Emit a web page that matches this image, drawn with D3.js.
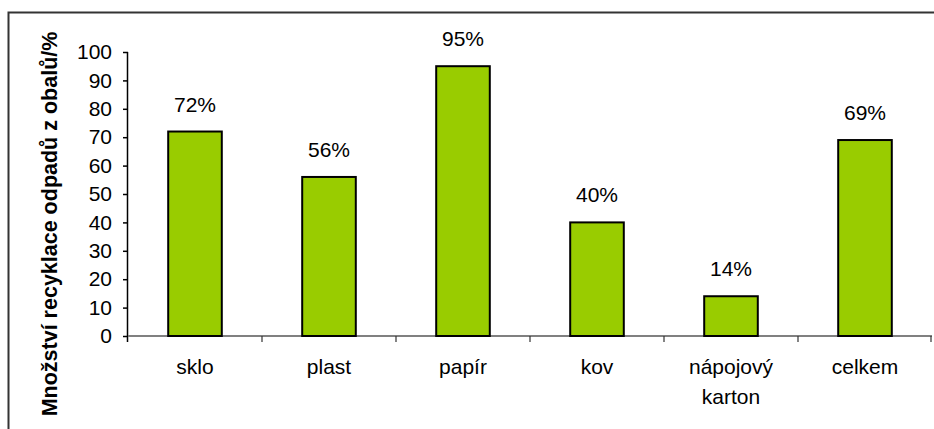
<!DOCTYPE html>
<html><head><meta charset="utf-8">
<script src="https://cdn.jsdelivr.net/npm/d3@7"></script>
<style>body{margin:0;background:#fff}svg{display:block}</style>
</head><body>
<script>
const categories = [["sklo"],["plast"],["papír"],["kov"],["nápojový","karton"],["celkem"]];
const values = [72, 56, 95, 40, 14, 69];
const yTicks = [0,10,20,30,40,50,60,70,80,90,100];
const yTitle = "Množství recyklace odpadů z obalů/%";

const W = 934, H = 429;
const FONT = "Arial, 'Liberation Sans', sans-serif";
const svg = d3.select("body").append("svg").attr("width", W).attr("height", H);
svg.append("rect").attr("x", 8.5).attr("y", 12.5).attr("width", 960).attr("height", 460)
  .attr("fill", "none").attr("stroke", "#333").attr("stroke-width", 2);

const x0 = 128, x1 = 932, yTop = 52, yBot = 336;
const x = d3.scaleBand().domain(d3.range(values.length)).range([x0, x1]).paddingInner(0.6).paddingOuter(0.3);
const xb = d3.scaleBand().domain(d3.range(values.length)).range([x0, x1]);
const y = d3.scaleLinear().domain([0,100]).range([yBot, yTop]);

// y axis
const ya = svg.append("g").attr("transform", `translate(${x0},0)`)
  .call(d3.axisLeft(y).tickValues(yTicks).tickSize(5).tickPadding(11));
ya.select(".domain").attr("stroke", "#000").attr("d", `M-0.5,${yTop}V${yBot+6}`).attr("stroke-width",1.5);
ya.selectAll(".tick line").attr("stroke", "#000").attr("stroke-width",1.5);
ya.selectAll(".tick text").attr("font-family", FONT).attr("font-size", 21).attr("fill", "#000");

// x axis line
svg.append("line").attr("x1", x0).attr("x2", x1).attr("y1", yBot).attr("y2", yBot)
  .attr("stroke", "#808080").attr("stroke-width", 2);
svg.selectAll(".xt").data(d3.range(1, values.length + 1)).enter().append("line")
  .attr("x1", i => i < values.length ? xb(i) : x1 - 1).attr("x2", i => i < values.length ? xb(i) : x1 - 1)
  .attr("y1", yBot).attr("y2", yBot + 6).attr("stroke", "#333").attr("stroke-width", 1.2);

// bars
svg.selectAll(".bar").data(values).enter().append("rect")
  .attr("x", (d,i) => x(i)).attr("width", x.bandwidth())
  .attr("y", d => y(d)).attr("height", d => yBot - y(d))
  .attr("fill", "#99cc00").attr("stroke", "#000").attr("stroke-width", 2);

// value labels
svg.selectAll(".vl").data(values).enter().append("text")
  .attr("x", (d,i) => x(i) + x.bandwidth()/2).attr("y", d => y(d) - 20)
  .attr("text-anchor", "middle").attr("font-family", FONT)
  .attr("font-size", 21).attr("fill", "#000").text(d => d + "%");

// category labels
const cl = svg.selectAll(".cl").data(categories).enter().append("text")
  .attr("text-anchor", "middle").attr("font-family", FONT)
  .attr("font-size", 21).attr("fill", "#000");
cl.each(function(lines, i) {
  d3.select(this).selectAll("tspan").data(lines).enter().append("tspan")
    .attr("x", xb(i) + xb.bandwidth()/2).attr("y", (l, j) => 374 + j * 30).text(l => l);
});

// y title
svg.append("text").attr("transform", `translate(57,224) rotate(-90)`)
  .attr("text-anchor", "middle").attr("font-family", FONT)
  .attr("font-size", 21.5).attr("font-weight", "bold").attr("fill", "#000").text(yTitle);
</script>
</body></html>
